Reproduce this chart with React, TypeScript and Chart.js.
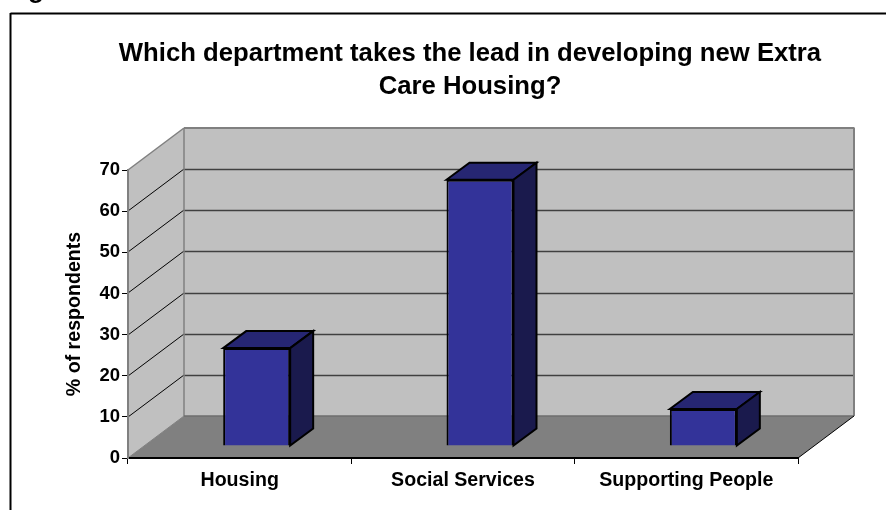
import React, { useEffect, useRef } from "react";
import { Chart, registerables } from "chart.js";

Chart.register(...registerables);

const categories = ["Housing", "Social Services", "Supporting People"];
const percentValues = [23.8, 64.7, 9];
const yTickMax = 70;
const yTickStep = 10;
const chartTitle = ["Which department takes the lead in developing new Extra", "Care Housing?"];
const yAxisTitle = "% of respondents";
const pageHeading = "Figure";

const FONT = "'Liberation Sans', Arial, sans-serif";
const DEPTH_X = 56;
const DEPTH_Y = 42;
const BAR_FRONT_X = 17;
const BAR_FRONT_Y = 12;
const BAR_DEPTH_X = 23;
const BAR_DEPTH_Y = 17;

const poly = (ctx: CanvasRenderingContext2D, pts: number[][], fill: string | null, stroke: string | null, lw = 1) => {
  ctx.beginPath();
  pts.forEach(([x, y], i) => (i ? ctx.lineTo(x, y) : ctx.moveTo(x, y)));
  ctx.closePath();
  if (fill) {
    ctx.fillStyle = fill;
    ctx.fill();
  }
  if (stroke) {
    ctx.strokeStyle = stroke;
    ctx.lineWidth = lw;
    ctx.stroke();
  }
};

const seg = (ctx: CanvasRenderingContext2D, a: number[], b: number[], color: string, lw = 1) => {
  ctx.beginPath();
  ctx.moveTo(a[0], a[1]);
  ctx.lineTo(b[0], b[1]);
  ctx.strokeStyle = color;
  ctx.lineWidth = lw;
  ctx.stroke();
};

const scene = {
  id: "scene",
  beforeDraw(chart: any) {
    const { ctx, chartArea: a, scales } = chart;
    const { left: l, right: r, top: t, bottom: b } = a;
    ctx.save();
    ctx.fillStyle = "#ffffff";
    ctx.fillRect(0, 0, chart.width, chart.height);
    // page heading, cut off by the picture's top edge, and the chart frame
    ctx.fillStyle = "#000000";
    ctx.font = `bold 26px ${FONT}`;
    ctx.textBaseline = "alphabetic";
    ctx.fillText(pageHeading, 5, -2);
    seg(ctx, [10.5, 13.5], [chart.width, 13.5], "#000000", 2);
    seg(ctx, [10.5, 13], [10.5, chart.height], "#000000", 2);
    // walls and floor
    poly(ctx, [[l + DEPTH_X, t - DEPTH_Y], [r + DEPTH_X, t - DEPTH_Y], [r + DEPTH_X, b - DEPTH_Y], [l + DEPTH_X, b - DEPTH_Y]], "#c0c0c0", null);
    poly(ctx, [[l, t], [l + DEPTH_X, t - DEPTH_Y], [l + DEPTH_X, b - DEPTH_Y], [l, b]], "#c0c0c0", null);
    poly(ctx, [[l, b], [l + DEPTH_X, b - DEPTH_Y], [r + DEPTH_X, b - DEPTH_Y], [r, b]], "#808080", null);
    // gridlines
    scales.y.ticks.forEach((tick: any) => {
      if (tick.value === 0 || tick.value === yTickMax) return;
      const y = Math.round(scales.y.getPixelForValue(tick.value));
      seg(ctx, [l, y], [l + DEPTH_X, y - DEPTH_Y], "#000000", 1);
      seg(ctx, [l + DEPTH_X, y - DEPTH_Y + 0.5], [r + DEPTH_X, y - DEPTH_Y + 0.5], "#404040", 1.5);
    });
    // wall edges
    const gray = "#808080";
    seg(ctx, [l, t], [l + DEPTH_X, t - DEPTH_Y], gray, 1.5);
    seg(ctx, [l + DEPTH_X, t - DEPTH_Y], [r + DEPTH_X + 0.5, t - DEPTH_Y], gray, 2);
    seg(ctx, [r + DEPTH_X, t - DEPTH_Y], [r + DEPTH_X, b - DEPTH_Y], gray, 2);
    seg(ctx, [l + DEPTH_X, t - DEPTH_Y], [l + DEPTH_X, b - DEPTH_Y], gray, 1.5);
    seg(ctx, [l + DEPTH_X, b - DEPTH_Y], [r + DEPTH_X, b - DEPTH_Y], "#6e6e6e", 1.5);
    seg(ctx, [l, b], [l + DEPTH_X, b - DEPTH_Y], "#808080", 1);
    seg(ctx, [r, b], [r + DEPTH_X, b - DEPTH_Y], "#000000", 1);
    ctx.restore();
  },
  beforeDatasetsDraw(chart: any) {
    const { ctx } = chart;
    ctx.save();
    ctx.translate(BAR_FRONT_X, -BAR_FRONT_Y);
    chart.getDatasetMeta(0).data.forEach((bar: any) => {
      const { x, y, base, width } = bar.getProps(["x", "y", "base", "width"], true);
      const x0 = x - width / 2;
      const x1 = x + width / 2;
      poly(ctx, [[x0, y], [x0 + BAR_DEPTH_X, y - BAR_DEPTH_Y], [x1 + BAR_DEPTH_X, y - BAR_DEPTH_Y], [x1, y]], "#262673", "#000000", 2);
      poly(ctx, [[x1, y], [x1 + BAR_DEPTH_X, y - BAR_DEPTH_Y], [x1 + BAR_DEPTH_X, base - BAR_DEPTH_Y], [x1, base]], "#1a1a4d", "#000000", 2);
    });
  },
  afterDatasetsDraw(chart: any) {
    chart.ctx.restore();
  },
};

export default function App() {
  const ref = useRef<HTMLCanvasElement>(null);
  useEffect(() => {
    const chart = new Chart(ref.current as HTMLCanvasElement, {
      type: "bar",
      data: {
        labels: categories,
        datasets: [
          {
            data: percentValues,
            backgroundColor: "#333399",
            borderColor: "#000000",
            borderWidth: 2,
            barPercentage: 0.3,
            categoryPercentage: 1,
            clip: false,
            yAxisID: "y",
          } as any,
        ],
      },
      options: {
        responsive: false,
        animation: false,
        devicePixelRatio: 1,
        layout: { padding: { left: 54, right: 0, top: 0, bottom: 0 } },
        plugins: {
          legend: { display: false },
          tooltip: { enabled: false },
          title: {
            display: true,
            text: chartTitle,
            color: "#000000",
            font: { family: FONT, size: 25.7, weight: "bold", lineHeight: 33 / 25.7 },
            padding: { top: 37, bottom: 67 },
          },
        },
        scales: {
          x: {
            grid: { display: true, drawOnChartArea: false, drawTicks: true, tickLength: 6, color: "#000000", offset: true },
            border: { color: "#000000", width: 2 },
            ticks: { color: "#000000", font: { family: FONT, size: 19.6, weight: "bold" }, padding: 5, maxRotation: 0 },
            afterFit: (s: any) => {
              s.height = 52;
            },
          },
          y: {
            min: 0,
            max: yTickMax,
            grid: { display: true, drawOnChartArea: false, drawTicks: true, tickLength: 6, color: "#000000" },
            border: { color: "#808080", width: 2 },
            ticks: { stepSize: yTickStep, color: "#000000", font: { family: FONT, size: 18.5, weight: "bold" }, padding: 2 },
            title: { display: true, text: yAxisTitle, color: "#000000", font: { family: FONT, size: 19.6, weight: "bold" }, padding: { top: 9, bottom: 0 } },
            afterFit: (s: any) => {
              s.width = 74;
            },
          },
          y2: {
            position: "right",
            display: true,
            grid: { display: false },
            border: { display: false },
            ticks: { display: false },
            afterFit: (s: any) => {
              s.width = 88;
            },
          },
        },
      } as any,
      plugins: [scene],
    });
    return () => chart.destroy();
  }, []);
  return <canvas ref={ref} width={886} height={510} style={{ position: "fixed", left: 0, top: 0, display: "block" }} />;
}
